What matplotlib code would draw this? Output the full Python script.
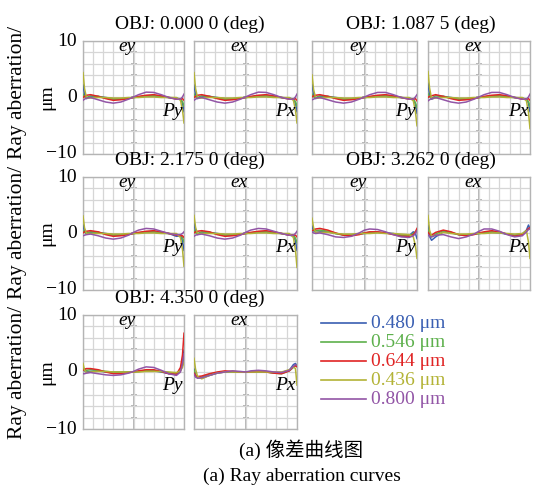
import matplotlib
matplotlib.use('Agg')
import matplotlib.pyplot as plt
import numpy as np

plt.rcParams['font.family'] = ['Liberation Serif', 'Noto Sans CJK SC', 'DejaVu Sans']
plt.rcParams['mathtext.fontset'] = 'stix'

W, H = 533, 486

# wavelengths (um) and their colours in the legend order
wavelengths = ['0.480', '0.546', '0.644', '0.436', '0.800']
colors = ['#3a5fb2', '#5db04c', '#e02424', '#b3b336', '#9255a6']

fields = ['0.000 0', '1.087 5', '2.175 0', '3.262 0', '4.350 0']

# normalised pupil coordinate where values were read
pupil = [-1, -0.97, -0.93, -0.85, -0.7, -0.55, -0.4, -0.25, -0.1, 0,
         0.1, 0.25, 0.4, 0.55, 0.7, 0.85, 0.93, 0.97, 1]

# ray aberration (um), rows: 0.480, 0.546, 0.644, 0.436, 0.800
ey_0000 = [
    [2.2, 0.6, -0.2, 0.1, 0.2, 0.0, -0.2, -0.2, -0.1, 0.0, 0.1, 0.2, 0.2, 0.1, 0.0, -0.1, -0.3, -1.0, -2.5],
    [0.6, 0.1, 0.0, 0.3, 0.2, -0.1, -0.3, -0.3, -0.1, 0.0, 0.1, 0.3, 0.3, 0.2, 0.0, -0.2, -0.3, -0.7, -1.5],
    [0.0, 0.2, 0.4, 0.5, 0.2, -0.2, -0.5, -0.4, -0.2, 0.0, 0.2, 0.4, 0.5, 0.3, 0.0, -0.3, -0.3, -0.2, -0.5],
    [4.4, 1.6, -0.1, -0.1, 0.0, 0.0, -0.1, -0.1, 0.0, 0.0, 0.0, 0.1, 0.1, 0.0, 0.0, 0.0, -0.5, -2.2, -4.5],
    [-0.5, -0.3, -0.1, 0.0, -0.4, -0.8, -1.0, -0.8, -0.3, 0.1, 0.5, 0.95, 0.9, 0.5, 0.0, -0.3, -0.3, 0.1, 0.6],
]
ex_0000 = ey_0000

ey_1088 = [
    [2.3, 0.6, -0.2, 0.1, 0.2, 0.0, -0.2, -0.2, -0.1, 0.0, 0.1, 0.2, 0.2, 0.1, 0.0, -0.1, -0.3, -1.2, -2.8],
    [0.6, 0.1, 0.0, 0.3, 0.2, -0.1, -0.3, -0.3, -0.1, 0.0, 0.1, 0.3, 0.3, 0.2, 0.0, -0.2, -0.3, -0.9, -1.8],
    [0.1, 0.3, 0.4, 0.5, 0.2, -0.2, -0.5, -0.4, -0.2, 0.0, 0.2, 0.4, 0.5, 0.3, 0.0, -0.3, -0.3, -0.2, -0.6],
    [4.0, 1.4, -0.1, -0.1, 0.0, 0.0, -0.1, -0.1, 0.0, 0.0, 0.0, 0.1, 0.1, 0.0, 0.0, 0.0, -0.6, -2.5, -5.0],
    [-0.4, -0.3, -0.1, 0.0, -0.4, -0.8, -1.0, -0.8, -0.3, 0.1, 0.5, 0.9, 0.9, 0.5, 0.0, -0.3, -0.3, 0.1, 0.5],
]
ex_1088 = [
    [2.5, 0.6, -0.3, 0.0, 0.2, 0.0, -0.2, -0.2, -0.1, 0.0, 0.1, 0.2, 0.2, 0.1, 0.0, -0.1, -0.3, -1.0, -2.5],
    [0.7, 0.1, -0.1, 0.3, 0.2, -0.1, -0.3, -0.3, -0.1, 0.0, 0.1, 0.3, 0.3, 0.2, 0.0, -0.2, -0.3, -0.7, -1.6],
    [0.0, 0.2, 0.3, 0.5, 0.2, -0.2, -0.5, -0.4, -0.2, 0.0, 0.2, 0.4, 0.5, 0.3, 0.0, -0.3, -0.3, -0.2, -0.5],
    [4.6, 1.7, -0.2, -0.1, 0.0, 0.0, -0.1, -0.1, 0.0, 0.0, 0.0, 0.1, 0.1, 0.0, 0.0, 0.0, -0.6, -2.6, -5.5],
    [-0.6, -0.4, -0.2, 0.0, -0.4, -0.8, -1.0, -0.8, -0.3, 0.1, 0.5, 0.9, 0.9, 0.5, 0.0, -0.3, -0.3, 0.1, 0.6],
]

ey_2175 = [
    [1.5, 0.4, -0.1, 0.2, 0.2, 0.0, -0.2, -0.2, -0.1, 0.0, 0.1, 0.2, 0.2, 0.1, 0.0, -0.5, -0.4, -1.3, -3.0],
    [0.5, 0.2, 0.1, 0.3, 0.2, -0.1, -0.3, -0.3, -0.1, 0.0, 0.1, 0.3, 0.3, 0.2, 0.0, -0.2, -0.3, -0.7, -1.5],
    [0.1, 0.3, 0.4, 0.5, 0.3, -0.2, -0.5, -0.4, -0.2, 0.0, 0.2, 0.4, 0.5, 0.3, 0.0, -0.3, -0.4, -0.4, -0.7],
    [3.1, 1.0, 0.0, 0.0, 0.0, 0.0, -0.1, -0.1, 0.0, 0.0, 0.0, 0.1, 0.1, 0.0, 0.0, 0.0, -0.7, -2.8, -5.8],
    [-0.4, -0.3, -0.2, -0.1, -0.4, -0.8, -1.0, -0.8, -0.3, 0.2, 0.6, 0.9, 0.8, 0.4, 0.0, -0.2, -0.2, 0.0, 0.3],
]
ex_2175 = [
    [1.8, 0.4, -0.2, 0.1, 0.2, 0.0, -0.2, -0.2, -0.1, 0.0, 0.1, 0.2, 0.2, 0.1, 0.0, -0.3, -0.4, -1.3, -3.0],
    [0.6, 0.1, 0.0, 0.3, 0.2, -0.1, -0.3, -0.3, -0.1, 0.0, 0.1, 0.3, 0.3, 0.2, 0.0, -0.2, -0.3, -0.8, -1.6],
    [0.1, 0.3, 0.4, 0.5, 0.3, -0.2, -0.5, -0.4, -0.2, 0.0, 0.2, 0.4, 0.5, 0.3, 0.0, -0.3, -0.3, -0.3, -0.6],
    [3.2, 1.1, -0.1, 0.0, 0.0, 0.0, -0.1, -0.1, 0.0, 0.0, 0.0, 0.1, 0.1, 0.0, 0.0, 0.0, -0.7, -2.9, -6.0],
    [-0.5, -0.3, -0.2, -0.1, -0.4, -0.8, -1.0, -0.8, -0.3, 0.2, 0.6, 0.9, 0.8, 0.4, 0.0, -0.3, -0.3, 0.0, 0.4],
]

ey_3262 = [
    [1.3, 0.5, 0.2, 0.3, 0.3, 0.0, -0.2, -0.2, -0.1, 0.0, 0.1, 0.2, 0.1, 0.0, -0.3, -0.4, 0.3, 0.0, -0.9],
    [0.6, 0.5, 0.5, 0.6, 0.4, 0.0, -0.3, -0.3, -0.1, 0.1, 0.2, 0.2, 0.1, -0.1, -0.3, -0.4, 0.0, 0.3, 0.5],
    [0.5, 0.6, 0.8, 0.9, 0.6, 0.1, -0.3, -0.4, -0.2, 0.1, 0.3, 0.3, 0.1, -0.2, -0.5, -0.5, -0.2, 0.3, 0.9],
    [2.7, 1.0, 0.2, 0.2, 0.2, 0.0, -0.1, -0.1, 0.0, 0.0, 0.0, 0.1, 0.0, 0.0, -0.1, -0.2, -0.6, -2.2, -4.4],
    [0.3, 0.1, 0.0, 0.1, -0.2, -0.6, -0.7, -0.5, 0.1, 0.6, 0.8, 0.7, 0.3, -0.2, -0.6, -0.7, -0.4, 0.0, 0.5],
]
ex_3262 = [
    [1.4, -0.5, -1.2, -0.6, 0.3, 0.1, -0.2, -0.3, -0.1, 0.0, 0.1, 0.2, 0.1, -0.1, -0.3, -0.1, 0.6, 1.5, 0.8],
    [0.6, -0.2, -0.6, -0.1, 0.5, 0.2, -0.2, -0.3, -0.1, 0.0, 0.1, 0.3, 0.2, -0.1, -0.4, -0.1, 0.5, 0.8, 0.9],
    [0.2, -0.1, -0.3, 0.2, 0.6, 0.3, -0.2, -0.4, -0.2, 0.1, 0.3, 0.5, 0.3, -0.1, -0.5, -0.2, 0.5, 0.9, 1.0],
    [3.2, 0.6, -0.5, -0.3, 0.2, 0.0, -0.1, -0.1, 0.0, 0.0, 0.0, 0.1, 0.1, 0.0, -0.1, 0.0, 0.5, -1.5, -4.4],
    [-0.2, -0.5, -0.6, -0.3, -0.2, -0.6, -0.9, -0.6, -0.1, 0.4, 0.8, 0.8, 0.4, -0.2, -0.6, -0.4, 0.3, 0.7, 0.8],
]

ey_4350 = [
    [0.4, 0.2, 0.0, 0.1, 0.2, 0.0, -0.1, -0.1, 0.0, 0.0, 0.1, 0.2, 0.2, 0.0, -0.3, -0.4, 0.3, 1.8, 3.8],
    [0.8, 0.4, 0.3, 0.4, 0.3, 0.1, 0.0, 0.0, 0.0, 0.0, 0.1, 0.2, 0.2, 0.1, -0.1, -0.2, 0.3, 1.2, 2.7],
    [0.3, 0.5, 0.6, 0.6, 0.4, 0.0, -0.3, -0.3, -0.1, 0.0, 0.2, 0.4, 0.4, 0.1, -0.3, -0.4, 0.8, 3.0, 6.8],
    [1.5, 0.3, -0.1, 0.0, 0.1, 0.1, 0.0, 0.0, 0.0, 0.0, 0.0, 0.1, 0.1, 0.1, 0.0, -0.1, 0.2, 0.8, 1.8],
    [-0.3, -0.3, -0.2, -0.1, -0.3, -0.5, -0.6, -0.5, -0.2, 0.1, 0.5, 0.9, 0.8, 0.3, -0.3, -0.6, 0.0, 1.4, 3.2],
]
ex_4350 = [
    [0.5, -0.5, -1.0, -1.1, -0.6, -0.2, 0.0, 0.0, 0.0, 0.0, 0.0, 0.0, 0.0, -0.1, -0.1, 0.3, 1.3, 1.5, 1.0],
    [0.3, -0.6, -0.9, -0.9, -0.4, -0.1, 0.0, 0.1, 0.0, 0.0, 0.0, 0.0, 0.0, -0.2, -0.3, 0.2, 0.8, 1.1, 1.3],
    [-0.2, -0.6, -0.8, -0.7, -0.3, 0.0, 0.2, 0.1, 0.0, 0.0, 0.0, 0.1, 0.0, -0.2, -0.3, 0.2, 0.9, 1.1, 0.9],
    [2.4, 0.5, -0.8, -1.2, -0.6, -0.2, 0.0, 0.0, 0.0, 0.0, 0.0, 0.0, 0.0, 0.0, 0.0, 0.4, 0.9, 0.6, -2.3],
    [-0.4, -0.9, -1.1, -1.0, -0.6, -0.2, 0.0, 0.2, 0.1, 0.0, 0.2, 0.3, 0.2, 0.0, -0.1, 0.3, 1.0, 1.3, 1.2],
]

panels = [(ey_0000, ex_0000), (ey_1088, ex_1088), (ey_2175, ex_2175),
          (ey_3262, ex_3262), (ey_4350, ex_4350)]

# pixel layout of the small plots
col_x = [(83, 184), (194, 297), (312, 417), (428, 530)]
row_y = [(41, 154), (177, 290), (315, 429)]

fig = plt.figure(figsize=(W / 100, H / 100), dpi=100)


def fx(x):
    return x / W


def fy(y):
    return 1 - y / H


def draw_panel(x0, x1, y0, y1, data, name, pname):
    ax = fig.add_axes([fx(x0), fy(y1), fx(x1 - x0), (y1 - y0) / H])
    ax.set_xlim(-1, 1)
    ax.set_ylim(-10, 10)
    ax.set_xticks(np.linspace(-1, 1, 11))
    ax.set_yticks(np.linspace(-10, 10, 11))
    ax.grid(True, color='#d6d6d6', lw=0.9)
    ax.tick_params(length=0, labelleft=False, labelbottom=False)
    for s in ax.spines.values():
        s.set_color('#b4b4b4')
        s.set_linewidth(1.0)
    ax.axvline(0, color='#a8a8a8', lw=1.2, zorder=1)
    ax.plot(np.zeros(9), np.linspace(-8, 8, 9), ls='none', marker='_',
            ms=5, mew=1.2, color='#a8a8a8', zorder=1)
    for vals, c in zip(data, colors):
        ax.plot(pupil, vals, color=c, lw=1.1, zorder=3)
    ax.text(0.44, 0.95, name, transform=ax.transAxes, ha='center', va='center',
            fontsize=14, style='italic', zorder=5)
    ax.text(0.985, 0.38, pname, transform=ax.transAxes, ha='right', va='center',
            fontsize=14, style='italic', zorder=5)
    return ax


for i, (ey, ex) in enumerate(panels):
    r, g = divmod(i, 2)
    y0, y1 = row_y[r]
    xa, xb = col_x[2 * g], col_x[2 * g + 1]
    draw_panel(xa[0], xa[1], y0, y1, ey, 'ey', 'Py')
    draw_panel(xb[0], xb[1], y0, y1, ex, 'ex', 'Px')
    fig.text(fx((xa[0] + xb[1]) / 2), fy(y0 - 17), 'OBJ: ' + fields[i] + ' (deg)',
             ha='center', va='center', fontsize=14)

label_y = [92, 232, 372]
for (y0, y1), ly in zip(row_y, label_y):
    fig.text(fx(77), fy(y0), '10', ha='right', va='center', fontsize=14)
    fig.text(fx(77), fy((y0 + y1) / 2), '0', ha='right', va='center', fontsize=14)
    fig.text(fx(77), fy(y1), '\u221210', ha='right', va='center', fontsize=14)
    fig.text(fx(47), fy((y0 + y1) / 2), '\u03bcm', ha='center', va='center',
             fontsize=14, rotation=90)
    fig.text(fx(18), fy(ly), 'Ray aberration/', ha='center', va='center',
             fontsize=15.5, rotation=90)

# legend
leg_y = [323, 342, 361, 380, 399]
for yy, wl, c in zip(leg_y, wavelengths, colors):
    fig.add_artist(plt.Line2D([fx(321), fx(366)], [fy(yy), fy(yy)], color=c, lw=1.2))
    fig.text(fx(371), fy(yy), wl + ' \u03bcm', ha='left', va='center', fontsize=14, color=c)

fig.text(fx(301), fy(450), '(a) 像差曲线图', ha='center', va='center', fontsize=14)
fig.text(fx(302), fy(476), '(a) Ray aberration curves', ha='center', va='center', fontsize=14)

fig.savefig('out.png', dpi=100)
